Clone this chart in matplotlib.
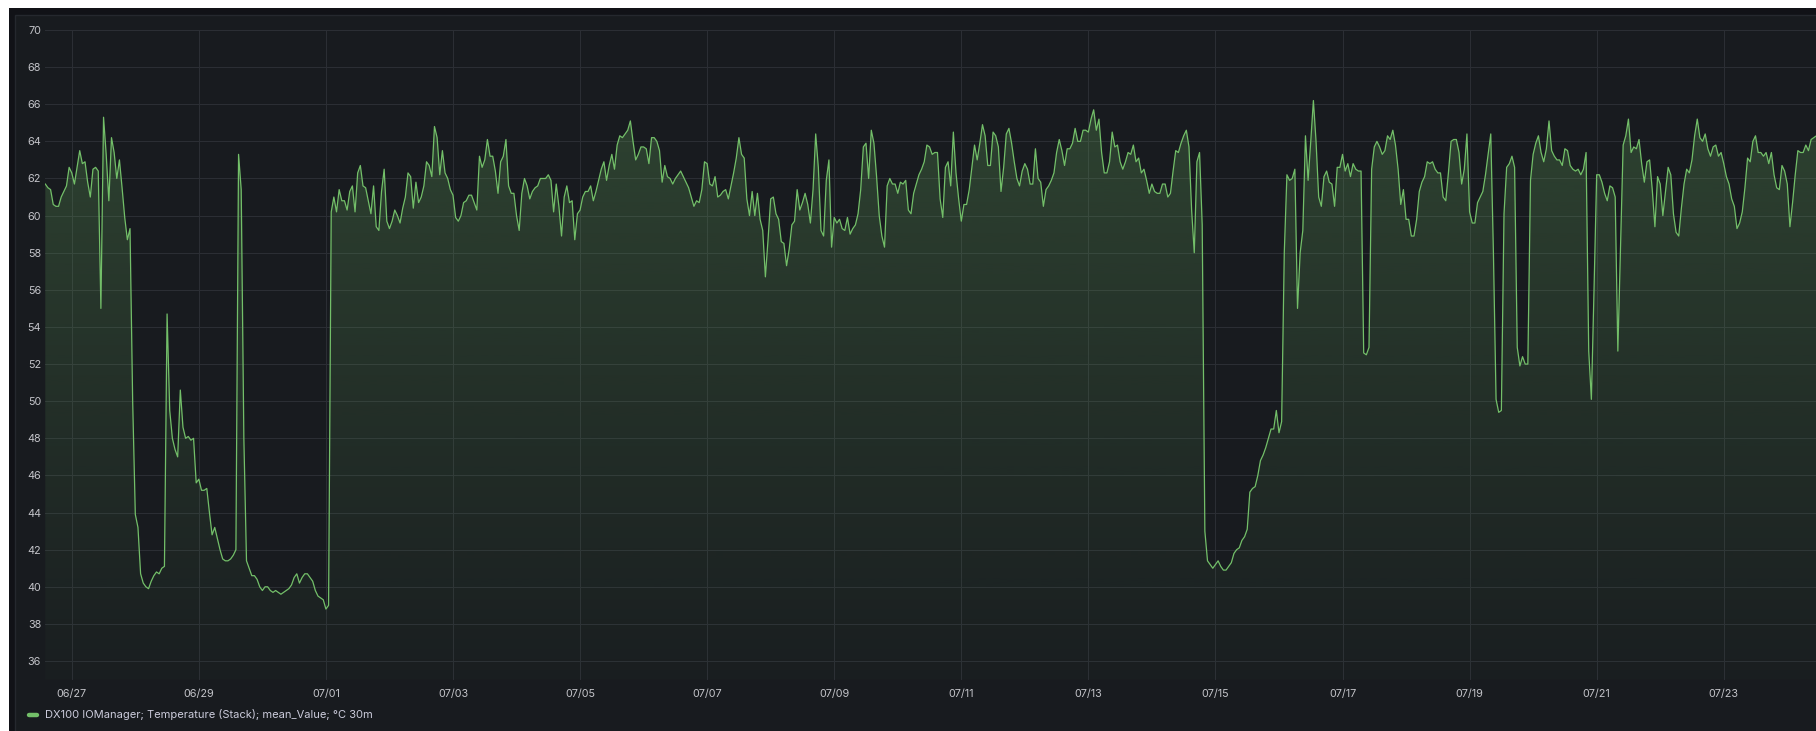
import numpy as np
import pandas as pd
import matplotlib
matplotlib.use("Agg")
import matplotlib.pyplot as plt
from matplotlib.patches import Rectangle
from matplotlib.lines import Line2D
from matplotlib.colors import to_rgb

plt.rcParams['font.family'] = ['Inter', 'DejaVu Sans']

# ---------------- data (hourly readings, °C) ----------------
start_time = '2024-06-26 14:00'
d0626 = [61.7, 61.5, 61.4, 60.6, 60.5, 60.5, 61.0, 61.3, 61.6, 62.6]
d0627 = [62.3, 61.7, 62.6, 63.5, 62.8, 62.9, 61.8, 61.0, 62.5, 62.6, 62.4, 55.0,
         65.3, 63.3, 60.8, 64.2, 63.4, 62.0, 63.0, 61.5, 59.9, 58.7, 59.3, 50.0]
d0628 = [43.9, 43.2, 40.7, 40.2, 40.0, 39.9, 40.3, 40.6, 40.8, 40.7, 41.0, 41.1,
         54.7, 49.5, 48.0, 47.4, 47.0, 50.6, 48.6, 48.0, 48.1, 47.9, 48.0, 45.6]
d0629 = [45.8, 45.2, 45.2, 45.3, 44.0, 42.8, 43.2, 42.6, 42.0, 41.5, 41.4, 41.4,
         41.5, 41.7, 42.0, 63.3, 61.4, 48.0, 41.4, 41.0, 40.6, 40.6, 40.4, 40.0]
d0630 = [39.8, 40.0, 40.0, 39.8, 39.7, 39.8, 39.7, 39.6, 39.7, 39.8, 39.9, 40.1,
         40.5, 40.7, 40.2, 40.5, 40.7, 40.7, 40.5, 40.3, 39.8, 39.5, 39.4, 39.3]
d0701 = [38.8, 39.0, 60.2, 61.0, 60.2, 61.4, 60.8, 60.8, 60.3, 61.3, 61.6, 60.2,
         62.3, 62.7, 61.6, 61.5, 60.8, 60.1, 61.6, 59.4, 59.2, 61.3, 62.5, 59.7]
d0702 = [59.3, 59.7, 60.3, 60.0, 59.6, 60.4, 61.0, 62.3, 62.1, 60.4, 61.8, 60.7,
         61.0, 61.6, 62.9, 62.7, 62.1, 64.8, 64.2, 62.2, 63.5, 62.3, 62.0, 61.4]
d0703 = [61.1, 59.9, 59.7, 60.0, 60.7, 60.8, 61.1, 61.1, 60.7, 60.3, 63.2, 62.6,
         63.0, 64.1, 63.2, 63.2, 62.4, 61.2, 62.9, 63.2, 64.1, 61.6, 61.2, 61.2]
d0704 = [60.0, 59.2, 61.2, 62.0, 61.6, 60.9, 61.3, 61.5, 61.6, 62.0, 62.0, 62.0,
         62.2, 61.9, 60.2, 61.7, 60.5, 58.9, 61.0, 61.6, 60.7, 60.8, 58.7, 60.1]
d0705 = [60.3, 61.0, 61.3, 61.3, 61.6, 60.8, 61.3, 61.9, 62.5, 62.9, 61.9, 62.7,
         63.3, 62.5, 63.8, 64.3, 64.2, 64.4, 64.6, 65.1, 64.0, 63.0, 63.3, 63.7]
d0706 = [63.7, 63.6, 62.8, 64.2, 64.2, 64.0, 63.5, 61.8, 62.7, 62.1, 62.0, 61.7,
         62.0, 62.2, 62.4, 62.1, 61.8, 61.5, 61.0, 60.5, 60.8, 60.7, 61.4, 62.9]
d0707 = [62.8, 61.7, 61.6, 62.1, 61.0, 61.1, 61.3, 61.4, 60.9, 61.6, 62.3, 63.1,
         64.2, 63.3, 63.1, 60.9, 60.0, 61.3, 60.0, 61.2, 59.8, 59.2, 56.7, 58.7]
d0708 = [60.9, 61.0, 60.1, 59.8, 58.6, 58.5, 57.3, 58.2, 59.5, 59.7, 61.4, 60.3,
         60.7, 61.2, 60.6, 59.6, 61.4, 64.4, 62.6, 59.2, 58.9, 61.9, 63.0, 58.3]
d0709 = [59.9, 59.6, 59.8, 59.3, 59.2, 59.9, 59.0, 59.3, 59.5, 60.1, 61.4, 63.7,
         63.9, 62.0, 64.6, 63.9, 62.1, 60.0, 58.9, 58.3, 61.6, 62.0, 61.7, 61.7]
d0710 = [61.2, 61.8, 61.7, 61.9, 60.3, 60.1, 61.2, 61.7, 62.2, 62.5, 62.9, 63.8,
         63.7, 63.3, 63.4, 63.4, 60.9, 59.9, 62.6, 62.9, 61.6, 64.5, 62.3, 60.9]
d0711 = [59.7, 60.6, 60.6, 61.4, 62.6, 63.8, 63.0, 63.9, 64.9, 64.3, 62.7, 62.7,
         64.5, 64.3, 63.7, 61.3, 62.6, 64.4, 64.7, 63.9, 62.9, 62.0, 61.6, 62.4]
d0712 = [62.8, 62.5, 61.7, 61.7, 63.6, 62.0, 61.8, 60.5, 61.4, 61.6, 61.9, 62.3,
         63.4, 64.1, 63.5, 62.7, 63.6, 63.6, 63.9, 64.7, 64.0, 64.0, 64.6, 64.6]
d0713 = [64.5, 65.2, 65.7, 64.6, 65.2, 63.4, 62.3, 62.3, 62.9, 64.5, 63.7, 63.8,
         62.9, 62.5, 62.9, 63.4, 63.3, 63.8, 62.9, 63.1, 62.3, 62.5, 61.9, 61.2]
d0714 = [61.7, 61.3, 61.2, 61.2, 61.7, 61.7, 61.0, 61.2, 62.4, 63.5, 63.4, 63.9,
         64.3, 64.6, 63.7, 60.3, 58.0, 62.9, 63.4, 59.5, 43.0, 41.4, 41.2, 41.0]
d0715 = [41.2, 41.4, 41.1, 40.9, 40.9, 41.1, 41.3, 41.8, 42.0, 42.1, 42.5, 42.7,
         43.1, 45.1, 45.3, 45.4, 46.0, 46.8, 47.1, 47.5, 48.0, 48.5, 48.5, 49.5]
d0716 = [48.3, 48.9, 58.0, 62.2, 61.9, 62.0, 62.5, 55.0, 58.0, 59.2, 64.3, 61.9,
         64.0, 66.2, 64.0, 61.0, 60.5, 62.1, 62.4, 61.8, 61.7, 60.5, 62.6, 62.6]
d0717 = [63.3, 62.4, 62.8, 62.1, 62.8, 62.5, 62.4, 62.4, 52.6, 52.5, 52.9, 62.5,
         63.7, 64.0, 63.7, 63.3, 63.5, 64.3, 64.1, 64.6, 63.8, 62.5, 60.6, 61.4]
d0718 = [59.8, 59.8, 58.9, 58.9, 59.8, 61.3, 61.8, 62.1, 62.9, 62.8, 62.9, 62.5,
         62.3, 62.3, 61.0, 60.8, 62.3, 64.0, 64.1, 64.1, 63.4, 61.7, 62.5, 64.4]
d0719 = [60.2, 59.6, 59.6, 60.7, 61.0, 61.3, 62.2, 63.3, 64.4, 58.0, 50.1, 49.4,
         49.5, 60.1, 62.6, 62.8, 63.2, 62.6, 52.9, 51.9, 52.4, 52.0, 52.0, 61.9]
d0720 = [63.3, 63.9, 64.3, 63.4, 62.9, 63.6, 65.1, 63.5, 63.2, 63.0, 63.0, 62.7,
         63.6, 63.5, 62.7, 62.5, 62.4, 62.5, 62.2, 62.5, 63.4, 52.7, 50.1, 56.0]
d0721 = [62.2, 62.2, 61.8, 61.2, 60.8, 61.6, 61.5, 61.0, 52.7, 58.3, 63.8, 64.3,
         65.2, 63.4, 63.7, 63.6, 64.1, 62.8, 61.8, 62.9, 63.0, 61.4, 59.4, 62.1]
d0722 = [61.7, 60.0, 61.3, 62.6, 62.2, 60.1, 59.1, 58.9, 60.4, 61.7, 62.5, 62.3,
         63.0, 64.3, 65.2, 64.2, 64.0, 64.4, 63.6, 63.2, 63.7, 63.8, 63.2, 63.4]
d0723 = [62.8, 62.1, 61.7, 60.9, 60.5, 59.3, 59.6, 60.2, 61.5, 63.1, 62.9, 64.0,
         64.3, 63.4, 63.4, 63.2, 63.4, 62.8, 63.4, 62.2, 61.5, 61.4, 62.7, 62.4]
d0724 = [61.7, 59.4, 60.7, 62.2, 63.5, 63.4, 63.4, 63.8, 63.5, 64.1, 64.2, 64.3]

tick_labels = ['06/27', '06/29', '07/01', '07/03', '07/05', '07/07', '07/09',
               '07/11', '07/13', '07/15', '07/17', '07/19', '07/21', '07/23']
y_ticks = list(range(36, 71, 2))
series_label = 'DX100 IOManager; Temperature (Stack); mean_Value; °C 30m'

values = np.array(d0626 + d0627 + d0628 + d0629 + d0630 + d0701 + d0702 + d0703 +
                  d0704 + d0705 + d0706 + d0707 + d0708 + d0709 + d0710 + d0711 +
                  d0712 + d0713 + d0714 + d0715 + d0716 + d0717 + d0718 + d0719 +
                  d0720 + d0721 + d0722 + d0723 + d0724)
times = pd.date_range(start_time, periods=len(values), freq='h')
tick_dates = pd.to_datetime(['2024-' + t.replace('/', '-') for t in tick_labels])

# ---------------- figure ----------------
W, H = 1816, 731
GREEN = '#73bf69'
PANEL = '#181b1f'
fig = plt.figure(figsize=(W / 100, H / 100), dpi=100)
fig.patch.set_facecolor('#111217')


def px_rect(x, y, w, h, **kw):
    r = Rectangle((x / W, 1 - (y + h) / H), w / W, h / H,
                  transform=fig.transFigure, zorder=-10, **kw)
    fig.add_artist(r)


px_rect(14.5, 14.5, W, H, facecolor=PANEL, edgecolor='#25282e', linewidth=1)
px_rect(0, 0, W, 8, facecolor='white', edgecolor='none')
px_rect(0, 0, 9, H, facecolor='white', edgecolor='none')

ax_left, ax_right, ax_top, ax_bottom = 45.3, 1816.4, 30.0, 679.6
ax = fig.add_axes([ax_left / W, 1 - ax_bottom / H,
                   (ax_right - ax_left) / W, (ax_bottom - ax_top) / H])
ax.patch.set_alpha(0)
ymin, ymax = 35, 70
ax.set_xlim(times[0], times[-1])
ax.set_ylim(ymin, ymax)

# gradient fill below the line
poly = ax.fill_between(times, values, ymin, facecolor='none', edgecolor='none')
rgb = to_rgb(GREEN)
n = 256
grad = np.zeros((n, 1, 4))
grad[:, 0, 0], grad[:, 0, 1], grad[:, 0, 2] = rgb
grad[:, 0, 3] = np.linspace(0.02, 0.27, n)
x0 = matplotlib.dates.date2num(times[0])
x1 = matplotlib.dates.date2num(times[-1])
im = ax.imshow(grad, extent=(x0, x1, ymin, ymax), origin='lower',
               aspect='auto', interpolation='bilinear', zorder=1)
im.set_clip_path(poly.get_paths()[0], transform=ax.transData)

ax.plot(times, values, color=GREEN, linewidth=0.9, zorder=3)

ax.set_yticks(y_ticks)
ax.set_xticks(tick_dates)
ax.set_xticklabels(tick_labels)
ax.grid(True, color='#2b2e34', linewidth=0.75, zorder=0)
ax.set_axisbelow(True)
for s in ax.spines.values():
    s.set_visible(False)
ax.tick_params(axis='both', length=0, labelsize=7.8, labelcolor='#c3c4c9')
ax.tick_params(axis='y', pad=3)
ax.tick_params(axis='x', pad=7)

# legend
ly = 1 - 715 / H
fig.add_artist(Line2D([28.5 / W, 37 / W], [ly, ly], transform=fig.transFigure,
                      color=GREEN, linewidth=3.2, solid_capstyle='round'))
fig.text(45 / W, ly, series_label, ha='left', va='center', fontsize=8.0,
         color='#ccccdc')

fig.savefig('out.png', dpi=100, facecolor=fig.get_facecolor())
